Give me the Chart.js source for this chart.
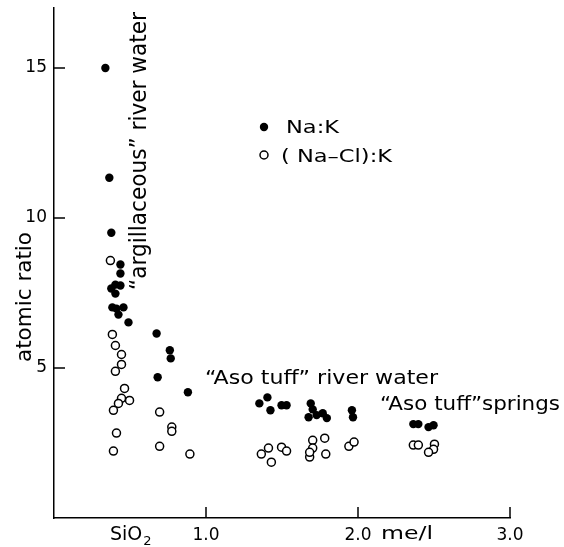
<!DOCTYPE html>
<html>
<head>
<meta charset="utf-8">
<script src="https://cdn.jsdelivr.net/npm/chart.js@4"></script>
<style>
  html, body { margin: 0; padding: 0; background: #fff; }
  #wrap { width: 564px; height: 547px; }
</style>
</head>
<body>
<div id="wrap"><canvas id="ratioChart"></canvas></div>
<script>
// Na:K (filled dots)
const naKSilica = [0.338, 0.364, 0.377, 0.437, 0.437, 0.404, 0.377, 0.437, 0.404, 0.384, 0.411, 0.457, 0.424, 0.49,
    0.675, 0.762, 0.768, 0.682, 0.881,
    1.351, 1.404, 1.424, 1.497, 1.530, 1.689, 1.702, 1.675, 1.728, 1.768, 1.795, 1.960, 1.967,
    2.364, 2.397, 2.464, 2.497];
const naKRatio = [15.0, 11.34, 9.51, 8.45, 8.15, 7.78, 7.65, 7.75, 7.48, 7.02, 6.98, 7.02, 6.78, 6.52,
    6.15, 5.59, 5.32, 4.69, 4.19,
    3.82, 4.02, 3.59, 3.76, 3.76, 3.82, 3.62, 3.36, 3.43, 3.49, 3.33, 3.59, 3.36,
    3.13, 3.13, 3.03, 3.09];

// (Na-Cl):K (open circles)
const naClKSilica = [0.371, 0.384, 0.404, 0.444, 0.444, 0.404, 0.464, 0.497, 0.444, 0.424, 0.391, 0.411, 0.391,
    0.695, 0.775, 0.775, 0.695, 0.894,
    1.364, 1.411, 1.430, 1.497, 1.530, 1.702, 1.781, 1.702, 1.682, 1.682, 1.788, 1.940, 1.974,
    2.364, 2.397, 2.503, 2.497, 2.464];
const naClKRatio = [8.58, 6.12, 5.75, 5.45, 5.12, 4.89, 4.32, 3.92, 3.99, 3.82, 3.59, 2.83, 2.23,
    3.53, 3.03, 2.89, 2.39, 2.13,
    2.13, 2.33, 1.86, 2.36, 2.23, 2.59, 2.66, 2.33, 2.03, 2.19, 2.13, 2.39, 2.53,
    2.43, 2.43, 2.46, 2.29, 2.19];

const xTicks = [1.0, 2.0, 3.0];
const xTickLabels = ['1.0', '2.0', '3.0'];
const yTicks = [5, 10, 15];
const yTickLabels = ['5', '10', '15'];

const FONT = "'DejaVu Sans', sans-serif";

function toPoints(xs, ys) {
    return xs.map((x, i) => ({ x: x, y: ys[i] }));
}

// draws text stretched/squeezed to a given width
function fitText(ctx, text, x, y, width, size, angle) {
    ctx.save();
    ctx.translate(x, y);
    ctx.rotate(angle || 0);
    ctx.font = size + 'px ' + FONT;
    ctx.textAlign = 'left';
    ctx.textBaseline = 'alphabetic';
    const w = ctx.measureText(text).width;
    ctx.scale(width / w, 1);
    ctx.fillText(text, 0, 0);
    ctx.restore();
}

const decorations = {
    id: 'decorations',
    beforeDraw(chart) {
        const ctx = chart.ctx;
        ctx.save();
        ctx.fillStyle = '#fff';
        ctx.fillRect(0, 0, chart.width, chart.height);
        ctx.restore();
    },
    afterDraw(chart) {
        const ctx = chart.ctx;
        const area = chart.chartArea;
        const xs = chart.scales.x;
        const ys = chart.scales.y;
        ctx.save();
        ctx.strokeStyle = '#000';
        ctx.fillStyle = '#000';
        ctx.lineWidth = 1.5;

        // inward tick marks
        yTicks.forEach(v => {
            const py = ys.getPixelForValue(v);
            ctx.beginPath();
            ctx.moveTo(area.left, py);
            ctx.lineTo(area.left + 11, py);
            ctx.stroke();
        });
        xTicks.forEach(v => {
            const px = xs.getPixelForValue(v);
            ctx.beginPath();
            ctx.moveTo(px, area.bottom);
            ctx.lineTo(px, area.bottom - 11);
            ctx.stroke();
        });

        // axis titles
        fitText(ctx, 'atomic ratio', 31, 362, 130, 22, -Math.PI / 2);
        ctx.font = '19px ' + FONT;
        ctx.fillText('SiO', 110, 540);
        const siW = ctx.measureText('SiO').width;
        ctx.font = '13px ' + FONT;
        ctx.fillText('2', 110 + siW + 1, 545);
        fitText(ctx, 'me/l', 381, 539, 52, 18);

        // legend
        ctx.beginPath();
        ctx.arc(264, 127, 4.2, 0, Math.PI * 2);
        ctx.fill();
        ctx.beginPath();
        ctx.arc(264, 155, 4, 0, Math.PI * 2);
        ctx.stroke();
        fitText(ctx, 'Na:K', 286, 133, 53, 18);
        fitText(ctx, '( Na\u2013Cl):K', 281, 162, 111, 18);

        // group labels
        fitText(ctx, '\u201Cargillaceous\u201D river water', 146, 290, 278, 23, -Math.PI / 2);
        fitText(ctx, '\u201CAso tuff\u201D river water', 205, 384, 233, 20);
        fitText(ctx, '\u201CAso tuff\u201Dsprings', 380, 410, 180, 20);
        ctx.restore();
    }
};

const ctx = document.getElementById('ratioChart').getContext('2d');
new Chart(ctx, {
    type: 'scatter',
    data: {
        datasets: [{
            label: 'Na:K',
            data: toPoints(naKSilica, naKRatio),
            pointRadius: 4.2,
            pointBackgroundColor: '#000',
            pointBorderColor: '#000',
            pointBorderWidth: 0
        }, {
            label: '(Na-Cl):K',
            data: toPoints(naClKSilica, naClKRatio),
            pointRadius: 4,
            pointBackgroundColor: '#fff',
            pointBorderColor: '#000',
            pointBorderWidth: 1.5
        }]
    },
    options: {
        responsive: true,
        maintainAspectRatio: false,
        animation: false,
        layout: { padding: { top: 8, right: 54, left: 0, bottom: 0 } },
        plugins: {
            legend: { display: false },
            tooltip: { enabled: false }
        },
        scales: {
            x: {
                type: 'linear',
                min: 0,
                max: 3.0,
                grid: { display: false, drawTicks: false },
                border: { color: '#000', width: 1.5 },
                afterBuildTicks: scale => { scale.ticks = xTicks.map(v => ({ value: v })); },
                afterFit: scale => {
                    scale.height = 29;
                    scale.paddingLeft = 0;
                    scale.paddingRight = 0;
                },
                ticks: {
                    color: '#000',
                    padding: 7,
                    font: { family: FONT, size: 17 },
                    callback: (v) => xTickLabels[xTicks.indexOf(v)]
                }
            },
            y: {
                type: 'linear',
                min: 0,
                max: 17,
                grid: { display: false, drawTicks: false },
                border: { color: '#000', width: 1.5 },
                afterBuildTicks: scale => { scale.ticks = yTicks.map(v => ({ value: v })); },
                afterFit: scale => {
                    scale.width = 54;
                    scale.paddingTop = 0;
                    scale.paddingBottom = 0;
                },
                ticks: {
                    color: '#000',
                    padding: 7,
                    font: { family: FONT, size: 17 },
                    callback: (v) => yTickLabels[yTicks.indexOf(v)]
                }
            }
        }
    },
    plugins: [decorations]
});
</script>
</body>
</html>
